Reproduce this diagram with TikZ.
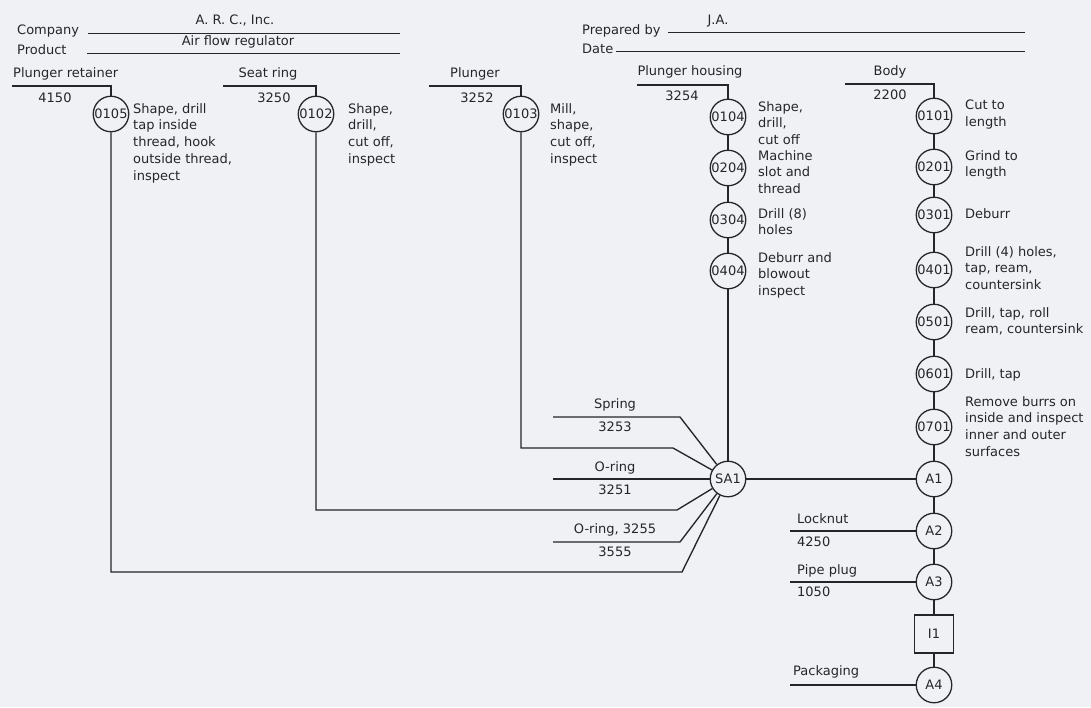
\documentclass[tikz,border=0pt]{standalone}
\usepackage{fontspec}
\setmainfont{DejaVu Sans}
\definecolor{ink}{RGB}{38,38,40}
\definecolor{paper}{RGB}{239,241,244}
\begin{document}
\begin{tikzpicture}[x=1pt,y=-1pt,
  every node/.style={font=\fontsize{13}{16.9}\selectfont, text=ink, inner sep=0pt},
  ln/.style={draw=ink, line width=1.35pt},
  hdr/.style={draw=ink, line width=1pt},
  op/.style={circle, draw=ink, line width=1.3pt, minimum size=35.5pt, inner sep=0pt, fill=paper},
  insp/.style={rectangle, draw=ink, line width=1.3pt, minimum width=39pt, minimum height=38pt, fill=paper},
  desc/.style={anchor=north west, align=left},
  lbl/.style={text height=9.3pt, text depth=2.6pt},
]
\fill[paper] (0,0) rectangle (1091,707);
\useasboundingbox (0,0) rectangle (1091,707);

% ---------- header ----------
\node[lbl, anchor=west] (company) at (17,31) {Company};
\node[lbl, anchor=west] (product) at (17,51) {Product};
\node[lbl] (arc) at (235,21) {A. R. C., Inc.};
\node[lbl] (afr) at (238,42) {Air flow regulator};
\coordinate (cl0) at (88,33);  \coordinate (cl1) at (400,33);
\coordinate (pl0) at (87,53);  \coordinate (pl1) at (400,53);
\draw[hdr] (cl0) -- (cl1);
\draw[hdr] (pl0) -- (pl1);
\node[lbl, anchor=west] (prep) at (582,31) {Prepared by};
\node[lbl, anchor=west] (date) at (582,50) {Date};
\node[lbl] (ja) at (718,21) {J.A.};
\coordinate (ql0) at (668,32); \coordinate (ql1) at (1025,32);
\coordinate (dl0) at (616,51); \coordinate (dl1) at (1025,51);
\draw[hdr] (ql0) -- (ql1);
\draw[hdr] (dl0) -- (dl1);

% ---------- Plunger retainer ----------
\node[lbl, anchor=west] (prl) at (13,74) {Plunger retainer};
\node[lbl] (prn) at (55,99) {4150};
\node[op] (o0105) at (111,114) {0105};
\node[desc] (d0105) at (133,103) {Shape, drill\\tap inside\\thread, hook\\outside thread,\\inspect};
\coordinate (pra) at (12,86); \coordinate (prb) at (111,86);
\coordinate (prc) at (111,572); \coordinate (prd) at (682,572);

% ---------- Seat ring ----------
\node[lbl] (srl) at (268,74) {Seat ring};
\node[lbl] (srn) at (274,99) {3250};
\node[op] (o0102) at (316,114) {0102};
\node[desc] (d0102) at (348,103) {Shape,\\drill,\\cut off,\\inspect};
\coordinate (sra) at (223,86); \coordinate (srb) at (316,86);
\coordinate (src) at (316,510); \coordinate (srd) at (677,510);

% ---------- Plunger ----------
\node[lbl] (pll) at (475,74) {Plunger};
\node[lbl] (pln) at (477,99) {3252};
\node[op] (o0103) at (521,114) {0103};
\node[desc] (d0103) at (550,103) {Mill,\\shape,\\cut off,\\inspect};
\coordinate (pla) at (429,86); \coordinate (plb) at (521,86);
\coordinate (plc) at (521,448); \coordinate (pld) at (673,448);

% ---------- Plunger housing ----------
\node[lbl] (phl) at (690,72) {Plunger housing};
\node[lbl] (phn) at (682,97) {3254};
\node[op] (o0104) at (728,117) {0104};
\node[op] (o0204) at (728,168) {0204};
\node[op] (o0304) at (728,220) {0304};
\node[op] (o0404) at (728,271) {0404};
\node[desc] (d0104) at (758,101) {Shape,\\drill,\\cut off};
\node[desc] (d0204) at (758,150) {Machine\\slot and\\thread};
\node[desc] (d0304) at (758,208) {Drill (8)\\holes};
\node[desc] (d0404) at (758,252) {Deburr and\\blowout\\inspect};
\coordinate (pha) at (637,85); \coordinate (phb) at (728,85);

% ---------- Body ----------
\node[lbl] (bdl) at (890,72) {Body};
\node[lbl] (bdn) at (890,96) {2200};
\node[op] (o0101) at (934,116) {0101};
\node[op] (o0201) at (934,167) {0201};
\node[op] (o0301) at (934,215) {0301};
\node[op] (o0401) at (934,270) {0401};
\node[op] (o0501) at (934,322) {0501};
\node[op] (o0601) at (934,374) {0601};
\node[op] (o0701) at (934,427) {0701};
\node[op] (A1) at (934,479) {A1};
\node[op] (A2) at (934,531) {A2};
\node[op] (A3) at (934,582) {A3};
\node[insp] (I1) at (934,634) {I1};
\node[op] (A4) at (934,685) {A4};
\node[desc] (d0101) at (965,100) {Cut to\\length};
\node[desc] (d0201) at (965,150) {Grind to\\length};
\node[desc] (d0301) at (965,208) {Deburr};
\node[desc] (d0401) at (965,246) {Drill (4) holes,\\tap, ream,\\countersink};
\node[desc] (d0501) at (965,307) {Drill, tap, roll\\ream, countersink};
\node[desc] (d0601) at (965,368) {Drill, tap};
\node[desc] (d0701) at (965,396) {Remove burrs on\\inside and inspect\\inner and outer\\surfaces};
\coordinate (bda) at (845,84); \coordinate (bdb) at (934,84);

% ---------- subassembly ----------
\node[op] (SA1) at (728,479) {SA1};
\node[lbl] (spl) at (615,405) {Spring};
\node[lbl] (spn) at (615,428) {3253};
\coordinate (spa) at (553,417); \coordinate (spb) at (680,417);
\node[lbl] (orl) at (615,468) {O-ring};
\node[lbl] (orn) at (615,491) {3251};
\coordinate (ora) at (553,479);
\node[lbl] (o2l) at (615,530) {O-ring, 3255};
\node[lbl] (o2n) at (615,553) {3555};
\coordinate (o2a) at (553,542); \coordinate (o2b) at (680,542);

% ---------- purchased parts at assembly ----------
\node[lbl, anchor=west] (lnl) at (797,520) {Locknut};
\node[lbl, anchor=west] (lnn) at (797,543) {4250};
\coordinate (lna) at (790,531);
\node[lbl, anchor=west] (ppl) at (797,571) {Pipe plug};
\node[lbl, anchor=west] (ppn) at (797,593) {1050};
\coordinate (ppa) at (790,582);
\node[lbl, anchor=west] (pkl) at (793,672) {Packaging};
\coordinate (pka) at (790,685);

% ---------- connectors ----------
\draw[ln] (pra) -- (prb) -- (o0105);
\draw[ln] (o0105) -- (prc) -- (prd) -- (SA1);
\draw[ln] (sra) -- (srb) -- (o0102);
\draw[ln] (o0102) -- (src) -- (srd) -- (SA1);
\draw[ln] (pla) -- (plb) -- (o0103);
\draw[ln] (o0103) -- (plc) -- (pld) -- (SA1);
\draw[ln] (pha) -- (phb) -- (o0104);
\draw[ln] (o0104) -- (o0204);
\draw[ln] (o0204) -- (o0304);
\draw[ln] (o0304) -- (o0404);
\draw[ln] (o0404) -- (SA1);
\draw[ln] (bda) -- (bdb) -- (o0101);
\draw[ln] (o0101) -- (o0201);
\draw[ln] (o0201) -- (o0301);
\draw[ln] (o0301) -- (o0401);
\draw[ln] (o0401) -- (o0501);
\draw[ln] (o0501) -- (o0601);
\draw[ln] (o0601) -- (o0701);
\draw[ln] (o0701) -- (A1);
\draw[ln] (A1) -- (A2);
\draw[ln] (A2) -- (A3);
\draw[ln] (A3) -- (I1);
\draw[ln] (I1) -- (A4);
\draw[ln] (spa) -- (spb) -- (SA1);
\draw[ln] (ora) -- (SA1);
\draw[ln] (o2a) -- (o2b) -- (SA1);
\draw[ln] (SA1) -- (A1);
\draw[ln] (lna) -- (A2);
\draw[ln] (ppa) -- (A3);
\draw[ln] (pka) -- (A4);
\end{tikzpicture}
\end{document}
